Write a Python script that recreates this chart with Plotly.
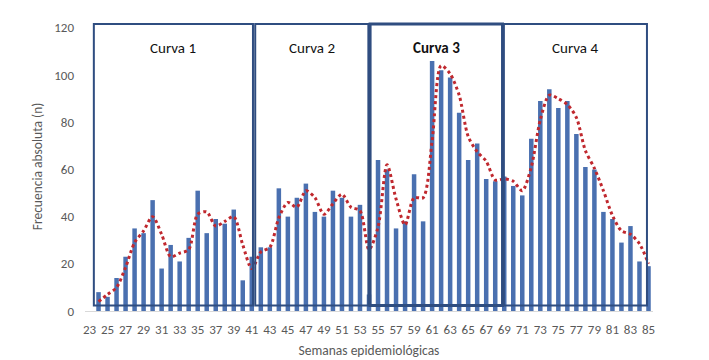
import plotly.graph_objects as go

weeks = list(range(23, 86))
cases = [0, 8, 6, 14, 23, 35, 33, 47, 18, 28, 21, 31, 51, 33, 39, 37, 43, 13, 23,
         27, 27, 52, 40, 48, 54, 42, 40, 51, 48, 40, 45, 7, 64, 60, 35, 38, 58, 38,
         106, 102, 99, 84, 64, 71, 56, 55, 57, 53, 49, 73, 89, 94, 86, 89, 75, 61,
         60, 42, 39, 29, 36, 21, 19]
# red dotted trend (weeks 24..85)
trend_weeks = list(range(24, 86))
trend = [4, 7, 10, 18.5, 29, 34, 40, 32.5, 23, 24.5, 26, 41, 42, 36, 38, 40, 28, 18,
         25, 27, 39.5, 46, 44, 51, 48, 41, 45.5, 49.5, 44, 42.5, 26, 35.5, 62, 47.5,
         36.5, 48, 48, 72, 104, 100.5, 91.5, 74, 67.5, 63.5, 55.5, 56, 55, 51, 61, 81,
         91.5, 90, 87.5, 82, 68, 60.5, 51, 40.5, 34, 32.5, 28.5, 20]
curve_names = ["Curva 1", "Curva 2", "Curva 3", "Curva 4"]
curve_starts = [23.48, 41.38, 54.12, 68.96]
curve_ends = [41.13, 53.93, 68.81, 84.83]
y_ticks = [0, 20, 40, 60, 80, 100, 120]
x_ticks = list(range(23, 86, 2))

FONT = "Calibri, Carlito, Lato, sans-serif"

fig = go.Figure()
fig.add_trace(go.Bar(x=weeks, y=cases, marker=dict(color="#4A70B0", line=dict(width=0)),
                     width=0.5, showlegend=False))
fig.add_trace(go.Scatter(x=trend_weeks, y=trend, mode="lines",
                         line=dict(color="#C0282E", width=3, dash="dot", shape="spline", smoothing=0.8),
                         showlegend=False))

for i, (name, s, e) in enumerate(zip(curve_names, curve_starts, curve_ends)):
    bold = (i == 2)
    fig.add_shape(type="rect", x0=s, x1=e, y0=2.3, y1=121.6, xref="x", yref="y",
                  line=dict(color="#2F4D80", width=3 if bold else 2), fillcolor="rgba(0,0,0,0)")
    fig.add_annotation(x=(s + e) / 2, y=111.5, text=name,
                       showarrow=False,
                       font=dict(family=FONT, size=15, color="#111111", weight=600 if bold else 400))

fig.update_layout(
    width=709, height=360,
    margin=dict(l=84.5, r=55.5, t=22, b=49),
    paper_bgcolor="white", plot_bgcolor="white",
    bargap=0.5,
    font=dict(family=FONT, color="#595959", size=12),
    xaxis=dict(range=[22.5, 85.5], tickmode="array", tickvals=x_ticks,
               ticktext=[str(t) for t in x_ticks], showgrid=False, zeroline=False,
               showline=True, linecolor="#D9D9D9", linewidth=1, ticks="",
               ticklabelstandoff=6, automargin=False,
               tickfont=dict(size=13, color="#595959"),
               title=dict(text="Semanas epidemiológicas", font=dict(size=13.5, color="#595959"), standoff=9)),
    yaxis=dict(range=[0, 122.5], tickmode="array", tickvals=y_ticks, showgrid=False,
               zeroline=False, showline=False, ticks="", ticklabelstandoff=10, automargin=False,
               tickfont=dict(size=13, color="#595959"),
               title=dict(text="Frecuencia absoluta (n)", font=dict(size=13.5, color="#595959"), standoff=8)),
)

fig.write_html("out.html")
